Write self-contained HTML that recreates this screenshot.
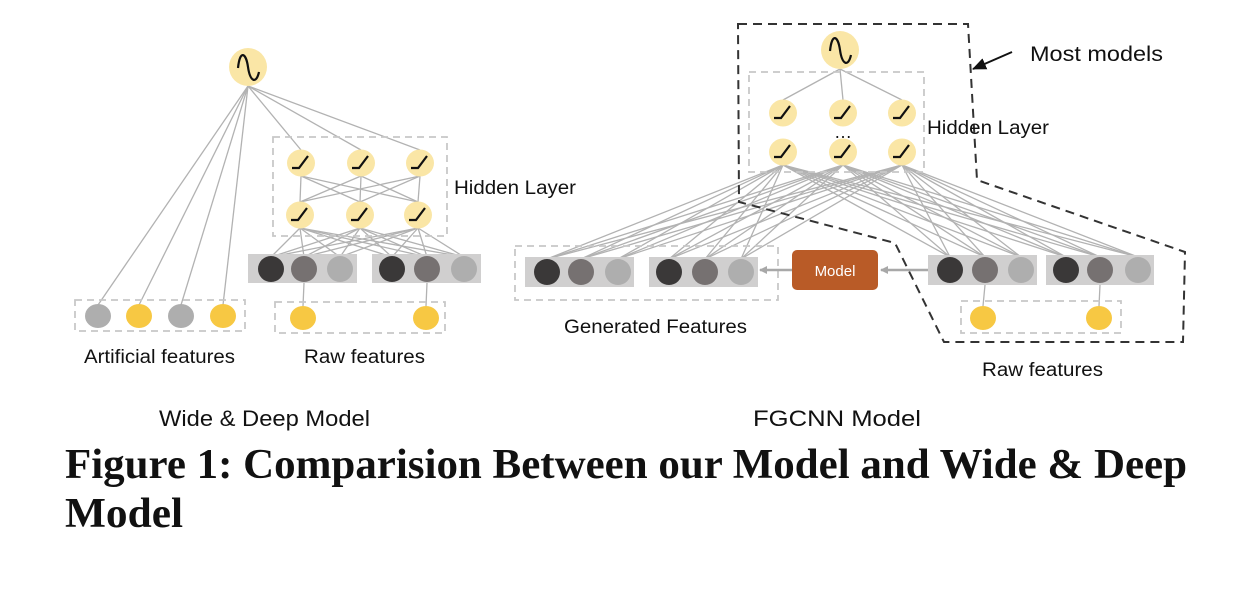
<!DOCTYPE html>
<html><head><meta charset="utf-8"><style>
html,body{margin:0;padding:0;background:#fff;}
svg{display:block;}
text{font-family:"Liberation Sans",sans-serif;}
</style></head><body>
<svg id="s" width="1260" height="600" viewBox="0 0 1260 600" xmlns="http://www.w3.org/2000/svg">
<defs>
<marker id="ga" markerWidth="8" markerHeight="8" refX="7" refY="4" orient="auto" markerUnits="userSpaceOnUse"><path d="M0,0 L8,4 L0,8 z" fill="#a8a8a8"/></marker>
<marker id="ka" markerWidth="14" markerHeight="12" refX="13" refY="6" orient="auto" markerUnits="userSpaceOnUse"><path d="M0,0 L14,6 L0,12 z" fill="#111"/></marker>
</defs>
<g id="lines" stroke="#b2b2b2" stroke-width="1.3" fill="none"></g>
<g fill="none" stroke="#c8c8c8" stroke-width="1.8" stroke-dasharray="7,5">
<rect x="273" y="137" width="174" height="99"/>
<rect x="75" y="300" width="170" height="31"/>
<rect x="275" y="302" width="170" height="31"/>
<rect x="749" y="72" width="175" height="100"/>
<rect x="515" y="246" width="263" height="54"/>
<rect x="961" y="301" width="160" height="32"/>
</g>
<path d="M738,24 L968,24 L977,180 L1185,252 L1183,342 L944,342 L895,243 L739,202 Z" fill="none" stroke="#333" stroke-width="2" stroke-dasharray="9,6"/>
<line x1="1012" y1="52" x2="973" y2="69" stroke="#111" stroke-width="2" marker-end="url(#ka)"/>
<text x="1030" y="61" font-size="21" fill="#111" textLength="133" lengthAdjust="spacingAndGlyphs">Most models</text>
<g fill="#d0cfcf">
<rect x="248" y="254" width="109" height="29"/>
<rect x="372" y="254" width="109" height="29"/>
<rect x="525" y="257" width="109" height="30"/>
<rect x="649" y="257" width="109" height="30"/>
<rect x="928" y="255" width="109" height="30"/>
<rect x="1046" y="255" width="108" height="30"/>
</g>
<g id="nodes"></g>
<line x1="928" y1="270" x2="881" y2="270" stroke="#a8a8a8" stroke-width="2.5" marker-end="url(#ga)"/>
<line x1="792" y1="270" x2="760" y2="270" stroke="#a8a8a8" stroke-width="2.5" marker-end="url(#ga)"/>
<rect x="792" y="250" width="86" height="40" rx="5" fill="#b95b27"/>
<text x="835" y="276" font-size="15" fill="#fff" text-anchor="middle">Model</text>
<text x="843" y="138" font-size="18" fill="#111" text-anchor="middle">…</text>
<g font-size="19" fill="#111">
<text x="454" y="194" textLength="122" lengthAdjust="spacingAndGlyphs">Hidden Layer</text>
<text x="927" y="134" textLength="122" lengthAdjust="spacingAndGlyphs">Hidden Layer</text>
<text x="84" y="363" textLength="151" lengthAdjust="spacingAndGlyphs">Artificial features</text>
<text x="304" y="363" textLength="121" lengthAdjust="spacingAndGlyphs">Raw features</text>
<text x="564" y="333" textLength="183" lengthAdjust="spacingAndGlyphs">Generated Features</text>
<text x="982" y="376" textLength="121" lengthAdjust="spacingAndGlyphs">Raw features</text>
<text x="159" y="426" font-size="22" textLength="211" lengthAdjust="spacingAndGlyphs">Wide &amp; Deep Model</text>
<text x="753" y="426" font-size="22" textLength="168" lengthAdjust="spacingAndGlyphs">FGCNN Model</text>
</g>
<g font-weight="bold" font-size="42" fill="#111">
<text x="65" y="478" textLength="1122" lengthAdjust="spacingAndGlyphs" style="font-family:'Liberation Serif',serif">Figure 1: Comparision Between our Model and Wide &amp; Deep</text>
<text x="65" y="527" textLength="118" lengthAdjust="spacingAndGlyphs" style="font-family:'Liberation Serif',serif">Model</text>
</g>
</svg>
<script>
var NS="http://www.w3.org/2000/svg";
var L=document.getElementById('lines'),N=document.getElementById('nodes');
function ln(a,b,c,d){var e=document.createElementNS(NS,'line');e.setAttribute('x1',a);e.setAttribute('y1',b);e.setAttribute('x2',c);e.setAttribute('y2',d);L.appendChild(e);}
function el(cx,cy,rx,ry,f){var e=document.createElementNS(NS,'ellipse');e.setAttribute('cx',cx);e.setAttribute('cy',cy);e.setAttribute('rx',rx);e.setAttribute('ry',ry);e.setAttribute('fill',f);N.appendChild(e);}
function pth(d){var e=document.createElementNS(NS,'path');e.setAttribute('d',d);e.setAttribute('stroke','#111');e.setAttribute('stroke-width','2.2');e.setAttribute('fill','none');N.appendChild(e);}
function relu(x,y){el(x,y,14,13.5,'#fae6a6');pth('M'+(x-9)+','+(y+5)+' L'+(x-2)+','+(y+5)+' L'+(x+7)+','+(y-7));}
function sig(x,y,r){el(x,y,r,r,'#fae6a6');pth('M'+(x-10)+','+(y+1)+' C'+(x-8)+','+(y-18)+' '+(x-2)+','+(y-14)+' '+x+','+y+' C'+(x+2)+','+(y+14)+' '+(x+8)+','+(y+18)+' '+(x+11)+','+(y+5));}
var G=['#3a3838','#767171','#aeaeae'];
var h1=[[301,163],[361,163],[420,163]],h2=[[300,215],[360,215],[418,215]];
var gl=[271,304,340,392,427,464];
[98,139,181,223].forEach(function(x){ln(248,86,x,305);});
h1.forEach(function(p){ln(248,86,p[0],p[1]-13);});
h1.forEach(function(a){h2.forEach(function(b){ln(a[0],a[1]+13,b[0],b[1]-13);});});
h2.forEach(function(a){gl.forEach(function(x){ln(a[0],a[1]+13,x,257);});});
ln(304,283,303,306);ln(427,283,426,306);
var r1=[[783,113],[843,113],[902,113]],r2=[[783,152],[843,152],[902,152]];
var gr=[[547,259],[581,259],[618,259],[669,259],[705,259],[741,259],[950,257],[985,257],[1021,257],[1066,257],[1100,257],[1138,257]];
r1.forEach(function(p){ln(840,69,p[0],p[1]-13);});
r2.forEach(function(a){gr.forEach(function(b){ln(a[0],a[1]+13,b[0],b[1]);});});
ln(985,285,983,306);ln(1100,285,1099,306);
sig(248,67,19);sig(840,50,19);
h1.concat(h2).forEach(function(p){relu(p[0],p[1]);});
r1.concat(r2).forEach(function(p){relu(p[0],p[1]);});
[[98,'#aeaeae'],[139,'#f7c843'],[181,'#aeaeae'],[223,'#f7c843']].forEach(function(p){el(p[0],316,13,12,p[1]);});
el(303,318,13,12,'#f7c843');el(426,318,13,12,'#f7c843');
el(983,318,13,12,'#f7c843');el(1099,318,13,12,'#f7c843');
gl.forEach(function(x,i){el(x,269,13,13,G[i%3]);});
[547,581,618,669,705,741].forEach(function(x,i){el(x,272,13,13,G[i%3]);});
[950,985,1021,1066,1100,1138].forEach(function(x,i){el(x,270,13,13,G[i%3]);});
</script>
</body></html>
